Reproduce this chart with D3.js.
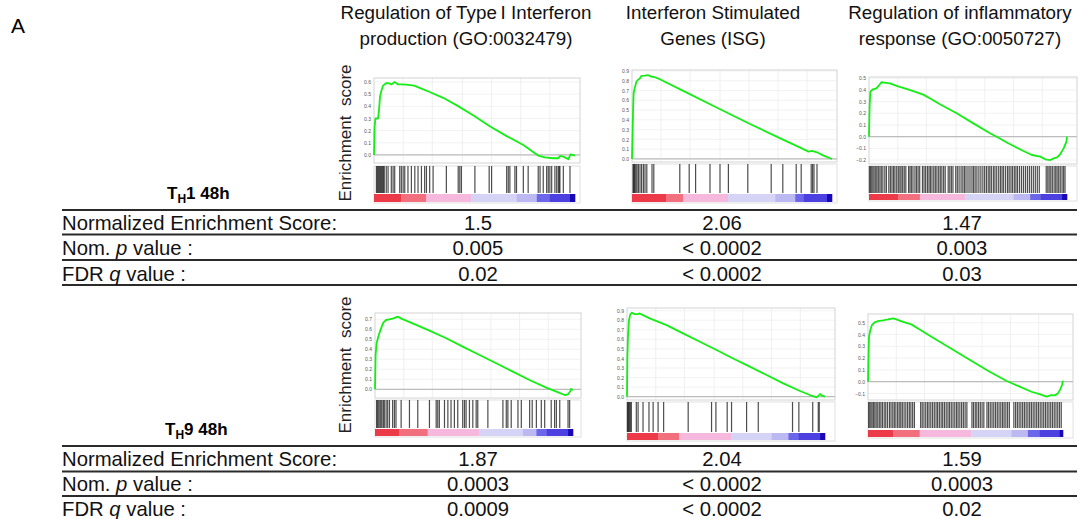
<!DOCTYPE html>
<html><head><meta charset="utf-8">
<script src="https://cdn.jsdelivr.net/npm/d3@7"></script>
<style>
body{margin:0;background:#fff;}
svg{display:block;font-family:"Liberation Sans",Arial,sans-serif;}
</style></head><body>
<svg id="c" width="1084" height="519"></svg>
<script>
// ---------------- DATA ----------------
const panelLetter = "A";
const titleLines = [
  ["Regulation of Type\u2009I Interferon", "production (GO:0032479)"],
  ["Interferon Stimulated", "Genes (ISG)"],
  ["Regulation of inflammatory", "response (GO:0050727)"]
];
const conditions = [{sub: "H", num: "1", time: " 48h"}, {sub: "H", num: "9", time: " 48h"}];
const yLabel = "Enrichment\u00a0\u00a0score";
const statLabels = ["Normalized Enrichment Score:", "Nom. |p| value :", "FDR |q| value :"];
const nesTH1 = ["1.5", "2.06", "1.47"];
const pTH1 = ["0.005", "< 0.0002", "0.003"];
const fdrTH1 = ["0.02", "< 0.0002", "0.03"];
const nesTH9 = ["1.87", "2.04", "1.59"];
const pTH9 = ["0.0003", "< 0.0002", "0.0003"];
const fdrTH9 = ["0.0009", "< 0.0002", "0.02"];

// running enrichment score: [rank fraction, ES]
const esTH1ifn = [[0,0],[0.003,0.23],[0.007,0.30],[0.02,0.30],[0.025,0.37],[0.03,0.48],[0.037,0.53],[0.045,0.57],[0.06,0.59],[0.075,0.59],[0.086,0.58],[0.103,0.60],[0.12,0.58],[0.136,0.58],[0.16,0.578],[0.2,0.57],[0.236,0.545],[0.277,0.518],[0.344,0.47],[0.41,0.41],[0.493,0.327],[0.576,0.237],[0.66,0.155],[0.743,0.082],[0.79,0.027],[0.817,-0.005],[0.85,-0.02],[0.892,-0.027],[0.917,-0.027],[0.925,-0.008],[0.942,-0.014],[0.967,-0.035],[0.978,0.005],[1.0,-0.005]];
const esTH1isg = [[0,0],[0.003,0.26],[0.005,0.47],[0.008,0.67],[0.013,0.72],[0.022,0.79],[0.03,0.81],[0.038,0.82],[0.047,0.85],[0.064,0.853],[0.08,0.857],[0.097,0.843],[0.114,0.836],[0.139,0.816],[0.256,0.696],[0.423,0.526],[0.59,0.358],[0.758,0.195],[0.841,0.116],[0.883,0.075],[0.9,0.082],[0.925,0.068],[0.958,0.034],[1.0,0.0]];
const esTH1inf = [[0,0],[0.003,0.257],[0.007,0.386],[0.02,0.406],[0.037,0.414],[0.046,0.43],[0.0625,0.466],[0.079,0.463],[0.105,0.457],[0.147,0.43],[0.189,0.409],[0.231,0.386],[0.274,0.36],[0.316,0.32],[0.358,0.277],[0.443,0.2],[0.527,0.114],[0.611,0.029],[0.654,-0.009],[0.696,-0.05],[0.78,-0.123],[0.823,-0.157],[0.865,-0.171],[0.89,-0.194],[0.916,-0.2],[0.932,-0.186],[0.95,-0.177],[0.966,-0.149],[0.983,-0.1],[0.997,-0.043],[1.0,0.0]];
const esTH9ifn = [[0,0],[0.003,0.343],[0.008,0.46],[0.017,0.527],[0.025,0.577],[0.034,0.627],[0.042,0.667],[0.056,0.693],[0.073,0.70],[0.089,0.707],[0.106,0.72],[0.115,0.727],[0.13,0.71],[0.19,0.66],[0.275,0.587],[0.36,0.51],[0.443,0.427],[0.528,0.343],[0.612,0.26],[0.696,0.177],[0.78,0.093],[0.865,0.017],[0.916,-0.023],[0.958,-0.057],[0.975,-0.05],[0.987,-0.017],[0.99,0.003],[1.0,-0.007]];
const esTH9isg = [[0,0],[0.002,0.42],[0.005,0.63],[0.01,0.80],[0.017,0.864],[0.025,0.878],[0.039,0.864],[0.056,0.864],[0.064,0.871],[0.081,0.854],[0.115,0.819],[0.2,0.749],[0.283,0.662],[0.368,0.575],[0.452,0.488],[0.536,0.40],[0.62,0.314],[0.705,0.226],[0.789,0.139],[0.874,0.059],[0.924,0.017],[0.958,-0.007],[0.966,0.007],[0.975,0.028],[0.983,0.014],[1.0,0.0]];
const esTH9inf = [[0,0],[0.002,0.155],[0.005,0.38],[0.012,0.438],[0.02,0.48],[0.034,0.503],[0.051,0.514],[0.077,0.52],[0.103,0.528],[0.128,0.537],[0.145,0.528],[0.18,0.508],[0.222,0.486],[0.265,0.443],[0.325,0.381],[0.368,0.339],[0.453,0.254],[0.538,0.169],[0.624,0.085],[0.709,0.008],[0.778,-0.042],[0.838,-0.085],[0.88,-0.105],[0.915,-0.127],[0.94,-0.113],[0.957,-0.116],[0.974,-0.099],[0.986,-0.065],[0.995,-0.028],[1.0,0.008]];

// gene-set hit positions (rank fraction)
const hitsTH1ifn = [0.012,0.017,0.022,0.027,0.032,0.037,0.042,0.047,0.051,0.061,0.07,0.086,0.095,0.103,0.128,0.136,0.145,0.153,0.169,0.186,0.203,0.219,0.236,0.252,0.261,0.277,0.294,0.36,0.419,0.427,0.435,0.502,0.573,0.585,0.66,0.668,0.676,0.701,0.709,0.743,0.767,0.817,0.826,0.842,0.859,0.867,0.875,0.884,0.9,0.909,0.917,0.922,0.925,0.942,0.975];
const hitsTH1isg = [0.005,0.008,0.012,0.015,0.02,0.025,0.032,0.04,0.048,0.057,0.065,0.074,0.1,0.109,0.239,0.286,0.318,0.39,0.44,0.482,0.579,0.696,0.754,0.821,0.846,0.896,0.903,0.91,0.925];
const hitsTH1inf = [0.002,0.008,0.014,0.02,0.026,0.034,0.04,0.047,0.055,0.062,0.07,0.08,0.088,0.1,0.108,0.116,0.124,0.131,0.14,0.148,0.156,0.162,0.17,0.178,0.186,0.2,0.207,0.214,0.222,0.232,0.24,0.248,0.256,0.27,0.278,0.286,0.295,0.303,0.31,0.318,0.327,0.335,0.343,0.352,0.36,0.368,0.377,0.385,0.4,0.408,0.416,0.424,0.438,0.446,0.455,0.465,0.474,0.482,0.49,0.5,0.51,0.52,0.528,0.536,0.545,0.555,0.565,0.575,0.584,0.593,0.602,0.61,0.618,0.628,0.636,0.645,0.655,0.664,0.672,0.68,0.69,0.7,0.708,0.717,0.725,0.734,0.742,0.75,0.76,0.77,0.78,0.79,0.8,0.81,0.82,0.83,0.84,0.85,0.86,0.895,0.903,0.91,0.918,0.926,0.935,0.943,0.95,0.958,0.966,0.975,0.983,0.99];
const hitsTH9ifn = [0.008,0.013,0.019,0.025,0.03,0.035,0.042,0.047,0.056,0.064,0.073,0.089,0.098,0.106,0.132,0.174,0.216,0.275,0.309,0.317,0.325,0.351,0.368,0.384,0.401,0.418,0.443,0.452,0.46,0.477,0.494,0.511,0.519,0.57,0.646,0.663,0.671,0.688,0.722,0.739,0.781,0.794,0.815,0.84,0.857,0.89,0.907,0.916,0.933,0.975,0.983];
const hitsTH9isg = [0.002,0.005,0.008,0.012,0.017,0.022,0.047,0.056,0.081,0.111,0.132,0.157,0.185,0.309,0.427,0.449,0.506,0.528,0.604,0.663,0.836,0.868,0.938,0.966,0.971];
const hitsTH9inf = [0.003,0.009,0.015,0.021,0.028,0.035,0.042,0.05,0.058,0.066,0.074,0.083,0.091,0.1,0.11,0.118,0.127,0.135,0.143,0.152,0.16,0.168,0.176,0.185,0.194,0.203,0.212,0.22,0.229,0.238,0.27,0.278,0.287,0.296,0.305,0.313,0.322,0.331,0.34,0.349,0.357,0.366,0.375,0.383,0.392,0.401,0.41,0.418,0.427,0.436,0.445,0.454,0.462,0.471,0.48,0.489,0.498,0.507,0.533,0.541,0.55,0.558,0.567,0.576,0.585,0.594,0.61,0.618,0.627,0.636,0.645,0.654,0.663,0.672,0.681,0.69,0.698,0.707,0.716,0.725,0.748,0.757,0.766,0.775,0.784,0.793,0.802,0.811,0.82,0.829,0.838,0.847,0.856,0.865,0.874,0.883,0.892,0.901,0.91,0.919,0.928,0.937,0.946,0.955,0.964,0.973,0.982,0.991];

// y-axis tick values per panel
const ticksTH1ifn = [0,0.1,0.2,0.3,0.4,0.5,0.6];
const ticksTH1isg = [0,0.1,0.2,0.3,0.4,0.5,0.6,0.7,0.8,0.9];
const ticksTH1inf = [-0.2,-0.1,0,0.1,0.2,0.3,0.4,0.5];
const ticksTH9ifn = [0,0.1,0.2,0.3,0.4,0.5,0.6,0.7];
const ticksTH9isg = [0,0.1,0.2,0.3,0.4,0.5,0.6,0.7,0.8,0.9];
const ticksTH9inf = [-0.1,0,0.1,0.2,0.3,0.4,0.5];
// y domains per panel
const yDomTH1ifn = [-0.066, 0.633];
const yDomTH1isg = [-0.031, 0.91];
const yDomTH1inf = [-0.234, 0.511];
const yDomTH9ifn = [-0.087, 0.763];
const yDomTH9isg = [-0.035, 0.928];
const yDomTH9inf = [-0.155, 0.574];

// ranked-list colour bar segment breaks (rank fraction)
const barTH1ifn = [0,0.136,0.26,0.485,0.71,0.81,0.875,0.975,1];
const barTH1isg = [0,0.172,0.256,0.48,0.716,0.816,0.858,0.975,1];
const barTH1inf = [0,0.147,0.257,0.485,0.73,0.814,0.865,0.975,1];
const barTH9ifn = [0,0.123,0.266,0.528,0.747,0.815,0.865,0.975,1];
const barTH9isg = [0,0.157,0.263,0.528,0.73,0.815,0.865,0.975,1];
const barTH9inf = [0,0.128,0.265,0.53,0.735,0.82,0.88,0.983,1];
// grid rank positions
const gridRanks = [0.145,0.29,0.44,0.585,0.73,0.875];

// ---------------- STYLE / LAYOUT ----------------
const barColors = ["#ec3a48","#f2707e","#f6b8dc","#d6d4f6","#bcb8f2","#6c66ea","#4c40e0","#1808b8"];
const svg = d3.select("#c");
const font = '"Liberation Sans", Arial, sans-serif';

const panels = [
  {es: esTH1ifn, hits: hitsTH1ifn, ticks: ticksTH1ifn, yDom: yDomTH1ifn, bar: barTH1ifn, L:{x0:374,x1:580,cx1:575,top:78,esB:163,hT:166,hB:193,cT:194,cB:202}},
  {es: esTH1isg, hits: hitsTH1isg, ticks: ticksTH1isg, yDom: yDomTH1isg, bar: barTH1isg, L:{x0:632,x1:837,cx1:832,top:70,esB:162,hT:164,hB:193,cT:194,cB:202}},
  {es: esTH1inf, hits: hitsTH1inf, ticks: ticksTH1inf, yDom: yDomTH1inf, bar: barTH1inf, L:{x0:869,x1:1077,cx1:1067,top:77,esB:164,hT:166,hB:193,cT:194,cB:200}},
  {es: esTH9ifn, hits: hitsTH9ifn, ticks: ticksTH9ifn, yDom: yDomTH9ifn, bar: barTH9ifn, L:{x0:375,x1:581,cx1:573,top:313,esB:398,hT:400,hB:428,cT:429,cB:436}},
  {es: esTH9isg, hits: hitsTH9isg, ticks: ticksTH9isg, yDom: yDomTH9isg, bar: barTH9isg, L:{x0:627,x1:835,cx1:825,top:308,esB:400,hT:402,hB:432,cT:433,cB:440}},
  {es: esTH9inf, hits: hitsTH9inf, ticks: ticksTH9inf, yDom: yDomTH9inf, bar: barTH9inf, L:{x0:868,x1:1073,cx1:1063,top:314,esB:400,hT:402,hB:428,cT:430,cB:437}}
];

function drawPanel(p) {
  const L = p.L;
  const g = svg.append("g");
  const x = d3.scaleLinear().domain([0,1]).range([L.x0, L.cx1]);
  const y = d3.scaleLinear().domain(p.yDom).range([L.esB, L.top]);
  g.selectAll(".hg").data(p.ticks).join("line")
    .attr("x1", L.x0).attr("x2", L.x1).attr("y1", d => y(d)).attr("y2", d => y(d))
    .attr("stroke", "#efefef").attr("stroke-width", 0.8);
  g.selectAll(".vg").data(gridRanks).join("line")
    .attr("x1", d => x(d)).attr("x2", d => x(d)).attr("y1", L.top).attr("y2", L.esB)
    .attr("stroke", "#ececec").attr("stroke-width", 0.8);
  g.append("rect").attr("x", L.x0).attr("y", L.top).attr("width", L.x1 - L.x0).attr("height", L.esB - L.top)
    .attr("fill", "none").attr("stroke", "#d4d4d4").attr("stroke-width", 1);
  g.append("rect").attr("x", L.x0).attr("y", L.hT).attr("width", L.x1 - L.x0).attr("height", L.cB + 1 - L.hT)
    .attr("fill", "none").attr("stroke", "#e0e0e0").attr("stroke-width", 1);
  g.append("line").attr("x1", L.x0).attr("x2", L.x1).attr("y1", y(0)).attr("y2", y(0))
    .attr("stroke", "#bdbdbd").attr("stroke-width", 1.2);
  const ax = g.append("g").attr("transform", `translate(${L.x0},0)`)
    .call(d3.axisLeft(y).tickValues(p.ticks).tickFormat(d3.format(".1f")).tickSize(0).tickPadding(3));
  ax.select(".domain").remove();
  ax.selectAll("text").attr("font-size", 5).attr("fill", "#555").attr("font-family", font);
  g.selectAll(".hit").data(p.hits).join("line")
    .attr("x1", d => x(d)).attr("x2", d => x(d)).attr("y1", L.hT).attr("y2", L.hB)
    .attr("stroke", "#222").attr("stroke-opacity", 0.8).attr("stroke-width", 1.2);
  const segs = d3.pairs(p.bar).map((s, i) => ({a: s[0], b: s[1], c: barColors[i]}));
  g.selectAll(".seg").data(segs).join("rect")
    .attr("x", d => x(d.a)).attr("width", d => x(d.b) - x(d.a) + 0.3)
    .attr("y", L.cT).attr("height", L.cB - L.cT).attr("fill", d => d.c);
  g.append("path").datum(p.es)
    .attr("d", d3.line().x(d => x(d[0])).y(d => y(d[1])).curve(d3.curveLinear))
    .attr("fill", "none").attr("stroke", "#14ee14").attr("stroke-width", 1.8).attr("stroke-linejoin", "round");
}
panels.forEach(drawPanel);

svg.append("text").attr("x", 11).attr("y", 33).attr("font-size", 21).attr("font-family", font).text(panelLetter);

const titleCenters = [466, 713, 960];
titleLines.forEach((lines, i) => {
  lines.forEach((t, j) => {
    svg.append("text").attr("x", titleCenters[i]).attr("y", 19 + j * 25.5)
      .attr("text-anchor", "middle").attr("font-size", 18.8).attr("font-family", font).attr("fill", "#111").text(t);
  });
});

[133, 365].forEach(cy => {
  svg.append("text").attr("transform", `translate(351,${cy}) rotate(-90)`)
    .attr("text-anchor", "middle").attr("font-size", 17).attr("font-family", font).attr("fill", "#222").text(yLabel);
});

const condPos = [{x: 167, y: 199}, {x: 165, y: 435}];
conditions.forEach((c, i) => {
  const t = svg.append("text").attr("x", condPos[i].x).attr("y", condPos[i].y)
    .attr("font-size", 17).attr("font-weight", "bold").attr("font-family", font);
  t.append("tspan").text("T");
  t.append("tspan").attr("font-size", 12).attr("dy", 4).text(c.sub);
  t.append("tspan").attr("dy", -4).text(c.num + c.time);
});

const valueCenters = [478, 722, 962];
const tables = [
  {rows: [nesTH1, pTH1, fdrTH1], lines: [210, 234.5, 260, 285], base: [230, 255, 280.5]},
  {rows: [nesTH9, pTH9, fdrTH9], lines: [446, 471.5, 496, 521], base: [465.5, 491, 516]}
];
tables.forEach(tb => {
  svg.selectAll(null).data(tb.lines).join("line")
    .attr("x1", 62).attr("x2", 1077).attr("y1", d => d).attr("y2", d => d)
    .attr("stroke", "#2a2a2a").attr("stroke-width", 2.2);
  statLabels.forEach((lab, r) => {
    const t = svg.append("text").attr("x", 62).attr("y", tb.base[r]).attr("font-size", 20.3).attr("font-family", font).attr("fill", "#111");
    lab.split("|").forEach((part, k) => {
      t.append("tspan").attr("font-style", k === 1 ? "italic" : "normal").text(part);
    });
    tb.rows[r].forEach((v, c) => {
      svg.append("text").attr("x", valueCenters[c]).attr("y", tb.base[r]).attr("text-anchor", "middle")
        .attr("font-size", 20.3).attr("font-family", font).attr("fill", "#111").text(v);
    });
  });
});
</script>
</body></html>
